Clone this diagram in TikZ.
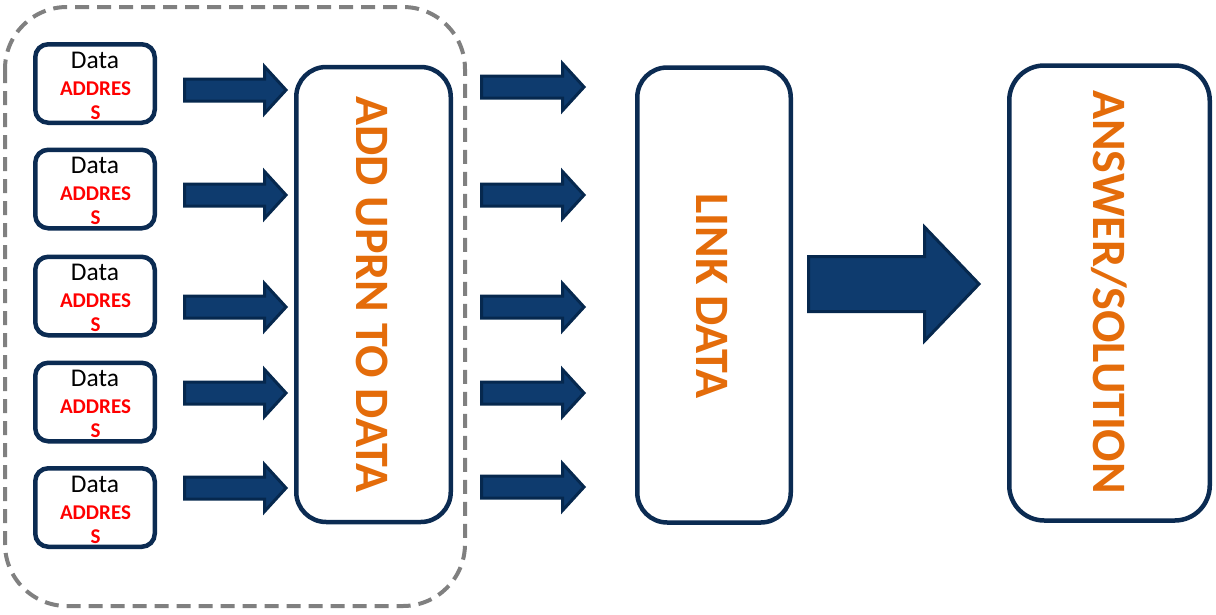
\documentclass[tikz,border=0pt]{standalone}
\usepackage{fontspec}
\setmainfont{Carlito}
\definecolor{navy}{HTML}{0B2B52}
\definecolor{arrowfill}{HTML}{0E3B6E}
\definecolor{arrowline}{HTML}{06284E}
\definecolor{orangetxt}{HTML}{E46C0A}
\definecolor{dashgray}{HTML}{808080}
\definecolor{addrred}{HTML}{FF0000}
\newcommand\blockarrow[6]{% x1, tip x, y centre, shaft half, head half, head base x
  \draw[arrowstyle] (#1,#3-#4) -- (#6,#3-#4) -- (#6,#3-#5) -- (#2,#3) -- (#6,#3+#5) -- (#6,#3+#4) -- (#1,#3+#4) -- cycle;}
\tikzset{
  arrowstyle/.style={fill=arrowfill, draw=arrowline, line width=3, line join=miter, miter limit=3},
  srcbox/.style={draw=navy, line width=4.5, rounded corners=13, minimum width=119.5, minimum height=78.5, inner sep=0pt},
  bigbox/.style={draw=navy, line width=4.5, rounded corners=30, inner sep=0pt, minimum height=455},
  datatxt/.style={font=\fontsize{25.5}{25.5}\selectfont, anchor=base, inner sep=0pt},
  addrtxt/.style={font=\fontsize{21}{21}\selectfont\bfseries, text=addrred, anchor=base, inner sep=0pt},
  steptxt/.style={font=\fontsize{48}{48}\selectfont\bfseries, text=orangetxt, rotate=-90, inner sep=0pt},
  grouprect/.style={draw=dashgray, line width=4, dash pattern=on 14 off 8, rounded corners=62}
}
\begin{document}
\begin{tikzpicture}[x=1pt, y=-1pt]
\fill[white] (0,0) rectangle (1216,614);
\useasboundingbox (0,0) rectangle (1216,614);
% dashed group
\draw[grouprect] (5,7) rectangle (465,606);
% source boxes
\foreach \i/\y in {1/83.5, 2/189, 3/296, 4/402, 5/507.5}{
  \node[srcbox] (src\i) at (95,\y) {};
  \node[datatxt] (srcd\i) at (95,\y-15.5) {Data};
  \node[addrtxt] (srca\i) at (95.5,\y+11.5) {ADDRES};
  \node[addrtxt] (srcs\i) at (95.5,\y+35.5) {S};
}
% big boxes
\node[bigbox, minimum width=154.5] (uprn) at (373.5,294.5) {};
\node[steptxt] (uprnt) at (372,294.5) {ADD UPRN TO DATA};
\node[bigbox, minimum width=153.5] (link) at (714,295) {};
\node[steptxt] (linkt) at (712,296) {LINK DATA};
\node[bigbox, minimum width=200.5, rounded corners=35] (ans) at (1109.5,293) {};
\node[steptxt] (anst) at (1109,292) {ANSWER/SOLUTION};
% left arrows
\foreach \y in {90,195,307,393,488}{
  \blockarrow{184.5}{286}{\y}{11}{23.5}{264.5}
}
% right arrows
\foreach \y in {87,195,307,393,487}{
  \blockarrow{481.5}{584}{\y}{11}{23.5}{562.5}
}
% big arrow
\blockarrow{808.5}{979}{284}{27.5}{57}{924.5}
\end{tikzpicture}
\end{document}
